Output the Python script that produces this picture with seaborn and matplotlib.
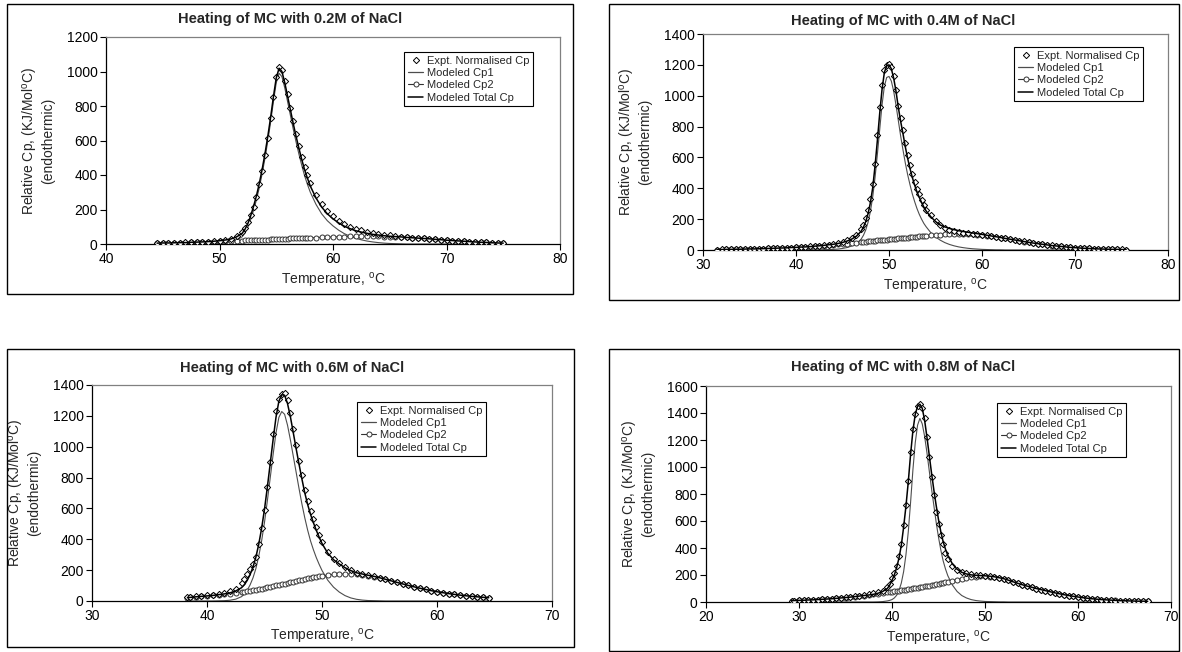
"""
DSC heating curves of MC with NaCl, four panels (Excel style)
"""
import matplotlib
matplotlib.use('Agg')
import matplotlib.pyplot as plt
from matplotlib.lines import Line2D
from matplotlib.patches import Rectangle
import seaborn as sns

# ---------------- data ----------------
# 0.2M NaCl
T_02 = [44.5, 45, 45.5, 46, 46.5, 47, 47.5, 48, 48.5, 49, 49.5, 50, 50.5, 51, 51.5, 52,
        52.25, 52.5, 52.75, 53, 53.25, 53.5, 53.75, 54, 54.25, 54.5, 54.75, 55, 55.25, 55.5,
        55.75, 56, 56.25, 56.5, 56.75, 57, 57.25, 57.5, 57.75, 58,
        58.5, 59, 59.5, 60, 60.5, 61, 61.5, 62, 62.5, 63, 63.5, 64, 64.5, 65, 65.5, 66, 66.5,
        67, 67.5, 68, 68.5, 69, 69.5, 70, 70.5, 71, 71.5, 72, 72.5, 73, 73.5, 74, 74.5, 75]
EXPT_02 = [5, 6, 7, 7, 8, 9, 10, 11, 13, 14, 16, 19, 24, 31, 45, 68,
           92, 125, 168, 215, 275, 345, 425, 515, 615, 730, 855, 968, 1025, 1008,
           945, 868, 790, 712, 638, 570, 505, 448, 398, 355,
           285, 232, 192, 160, 135, 115, 100, 88, 79, 71, 65, 59, 54, 50, 46, 43, 40,
           37, 35, 32, 30, 27, 25, 23, 20, 18, 16, 14, 12, 10, 9, 7, 6, 5]
CP1_02 = [0, 0, 0, 0, 0, 0, 1, 1, 1, 2, 3, 4, 7, 12, 22, 42,
          65, 98, 142, 195, 255, 325, 405, 495, 595, 705, 825, 935, 990, 970,
          905, 825, 745, 665, 590, 520, 455, 395, 345, 300,
          230, 175, 135, 105, 80, 60, 45, 33, 24, 17, 12, 8, 5, 3, 2, 1, 0,
          0, 0, 0, 0, 0, 0, 0, 0, 0, 0, 0, 0, 0, 0, 0, 0, 0]
CP2_02 = [5, 6, 6, 7, 8, 8, 9, 10, 11, 12, 13, 15, 16, 17, 19, 20,
          21, 21, 22, 23, 23, 24, 25, 26, 26, 27, 28, 28, 29, 30,
          30, 31, 32, 32, 33, 34, 34, 35, 36, 36,
          37, 39, 40, 41, 42, 43, 44, 44, 45, 45, 44, 44, 43, 42, 41, 40, 38,
          36, 34, 32, 30, 27, 25, 22, 20, 18, 16, 14, 12, 10, 9, 7, 6, 5]
TOTAL_02 = [5, 6, 6, 7, 8, 8, 10, 11, 12, 14, 16, 19, 23, 29, 41, 62,
            86, 119, 164, 218, 278, 349, 430, 521, 621, 732, 853, 963, 1019, 1000,
            935, 856, 777, 697, 623, 554, 489, 430, 381, 336,
            267, 214, 175, 146, 122, 103, 89, 77, 69, 62, 56, 52, 48, 45, 43, 41, 38,
            36, 34, 32, 30, 27, 25, 22, 20, 18, 16, 14, 12, 10, 9, 7, 6, 5]

# 0.4M NaCl
T_04 = [31.5, 32, 32.5, 33, 33.5, 34, 34.5, 35, 35.5, 36, 36.5, 37, 37.5, 38, 38.5, 39,
        39.5, 40, 40.5, 41, 41.5, 42, 42.5, 43, 43.5, 44, 44.5, 45, 45.5, 46, 46.5, 47,
        47.25, 47.5, 47.75, 48, 48.25, 48.5, 48.75, 49, 49.25, 49.5, 49.75, 50, 50.25, 50.5,
        50.75, 51, 51.25, 51.5, 51.75, 52, 52.25, 52.5, 52.75, 53, 53.25, 53.5, 53.75, 54,
        54.5, 55, 55.5, 56, 56.5, 57, 57.5, 58, 58.5, 59, 59.5, 60, 60.5, 61, 61.5, 62, 62.5,
        63, 63.5, 64, 64.5, 65, 65.5, 66, 66.5, 67, 67.5, 68, 68.5, 69, 69.5, 70, 70.5, 71,
        71.5, 72, 72.5, 73, 73.5, 74, 74.5, 75, 75.5]
EXPT_04 = [3, 4, 4, 5, 5, 6, 6, 7, 8, 8, 9, 10, 11, 12, 13, 15,
           16, 18, 19, 21, 23, 26, 28, 31, 35, 39, 44, 52, 62, 78, 100, 135,
           165, 205, 260, 330, 430, 560, 745, 930, 1070, 1165, 1198, 1205, 1185, 1130,
           1040, 935, 855, 780, 692, 615, 552, 495, 442, 395, 360, 325, 292, 262,
           225, 188, 160, 142, 130, 122, 117, 113, 110, 106, 102, 98, 94, 90, 86, 81, 76,
           71, 66, 61, 56, 51, 46, 42, 38, 34, 30, 27, 24, 21, 18, 16, 14, 12,
           10, 9, 8, 7, 6, 5, 4, 4, 3]
CP1_04 = [0, 0, 0, 0, 0, 0, 0, 0, 0, 0, 0, 0, 0, 0, 0, 0,
          0, 0, 0, 0, 0, 1, 1, 2, 3, 4, 6, 10, 16, 26, 42, 70,
          95, 130, 180, 250, 345, 470, 620, 780, 940, 1060, 1118, 1125, 1095, 1030,
          940, 840, 740, 650, 565, 490, 425, 365, 315, 270, 232, 200, 172, 150,
          112, 85, 64, 48, 36, 27, 20, 15, 11, 8, 6, 4, 3, 2, 1, 1, 0,
          0, 0, 0, 0, 0, 0, 0, 0, 0, 0, 0, 0, 0, 0, 0, 0, 0,
          0, 0, 0, 0, 0, 0, 0, 0, 0]
CP2_04 = [3, 3, 4, 4, 5, 5, 6, 7, 7, 8, 9, 10, 11, 12, 13, 14,
          16, 17, 19, 20, 22, 24, 26, 28, 31, 33, 36, 39, 42, 45, 48, 51,
          53, 54, 56, 57, 59, 60, 62, 63, 65, 66, 68, 69, 71, 72,
          74, 75, 77, 78, 80, 81, 83, 84, 86, 87, 88, 90, 91, 93,
          95, 98, 100, 102, 104, 105, 105, 105, 104, 102, 100, 97, 93, 89, 85, 80, 75,
          70, 65, 60, 55, 50, 45, 41, 37, 33, 29, 26, 23, 20, 17, 15, 13, 11,
          10, 8, 7, 6, 5, 4, 4, 3, 3]
TOTAL_04 = [3, 3, 4, 4, 5, 5, 6, 7, 7, 8, 9, 10, 11, 12, 13, 14,
            16, 17, 19, 20, 22, 25, 27, 30, 34, 37, 42, 49, 58, 71, 90, 121,
            148, 184, 236, 307, 404, 545, 710, 885, 1040, 1150, 1195, 1200, 1175, 1115,
            1030, 925, 835, 755, 670, 595, 530, 472, 422, 378, 342, 308, 278, 252,
            215, 185, 162, 150, 140, 132, 125, 120, 115, 110, 106, 101, 96, 91, 86, 81, 75,
            70, 65, 60, 55, 50, 45, 41, 37, 33, 29, 26, 23, 20, 17, 15, 13, 11,
            10, 8, 7, 6, 5, 4, 4, 3, 3]

# 0.6M NaCl
T_06 = [38.3, 38.5, 39, 39.5, 40, 40.5, 41, 41.5, 42, 42.5, 43,
        43.25, 43.5, 43.75, 44, 44.25, 44.5, 44.75, 45, 45.25, 45.5, 45.75, 46, 46.25, 46.5,
        46.75, 47, 47.25, 47.5, 47.75, 48, 48.25, 48.5, 48.75, 49, 49.25, 49.5, 49.75, 50,
        50.5, 51, 51.5, 52, 52.5, 53, 53.5, 54, 54.5, 55, 55.5, 56, 56.5, 57, 57.5, 58, 58.5,
        59, 59.5, 60, 60.5, 61, 61.5, 62, 62.5, 63, 63.5, 64, 64.5]
EXPT_06 = [28, 29, 31, 34, 37, 41, 46, 52, 62, 80, 115,
           145, 175, 205, 240, 285, 370, 470, 590, 740, 900, 1080, 1230, 1310, 1340,
           1345, 1300, 1220, 1115, 1010, 910, 815, 720, 645, 585, 530, 478, 430, 385,
           315, 275, 248, 222, 200, 183, 175, 167, 160, 151, 141, 131, 121, 111, 101, 92, 83,
           75, 67, 60, 54, 48, 43, 38, 34, 30, 27, 24, 21]
CP1_06 = [0, 0, 0, 0, 0, 0, 1, 2, 5, 12, 28,
          45, 70, 105, 150, 210, 290, 390, 510, 650, 800, 950, 1090, 1190, 1228,
          1210, 1140, 1045, 940, 835, 730, 630, 540, 460, 390, 333, 282, 238, 198,
          135, 90, 58, 35, 20, 11, 6, 3, 2, 1, 0, 0, 0, 0, 0, 0, 0,
          0, 0, 0, 0, 0, 0, 0, 0, 0, 0, 0, 0]
CP2_06 = [22, 23, 27, 30, 33, 36, 40, 44, 48, 53, 58,
          61, 64, 67, 70, 74, 78, 81, 85, 89, 93, 97, 101, 105, 109,
          113, 117, 121, 126, 130, 134, 138, 142, 146, 150, 153, 157, 160, 163,
          168, 172, 174, 175, 174, 172, 169, 164, 158, 150, 141, 131, 121, 111, 101, 92, 83,
          75, 67, 60, 54, 48, 43, 38, 34, 30, 27, 24, 21]
TOTAL_06 = [22, 23, 27, 30, 33, 36, 41, 46, 53, 65, 86,
            106, 134, 172, 220, 284, 368, 471, 595, 739, 893, 1047, 1191, 1295, 1337,
            1333, 1280, 1195, 1092, 988, 888, 792, 702, 626, 562, 508, 459, 414, 373,
            310, 268, 240, 216, 197, 183, 175, 167, 160, 151, 141, 131, 121, 111, 101, 92, 83,
            75, 67, 60, 54, 48, 43, 38, 34, 30, 27, 24, 21]

# 0.8M NaCl
T_08 = [29.2, 29.5, 30, 30.5, 31, 31.5, 32, 32.5, 33, 33.5, 34, 34.5, 35, 35.5, 36, 36.5,
        37, 37.5, 38, 38.5, 39, 39.5,
        39.75, 40, 40.25, 40.5, 40.75, 41, 41.25, 41.5, 41.75, 42, 42.25, 42.5, 42.75, 43,
        43.25, 43.5, 43.75, 44, 44.25, 44.5, 44.75, 45, 45.25, 45.5, 45.75, 46,
        46.5, 47, 47.5, 48, 48.5, 49, 49.5, 50, 50.5, 51, 51.5, 52, 52.5, 53, 53.5, 54, 54.5,
        55, 55.5, 56, 56.5, 57, 57.5, 58, 58.5, 59, 59.5, 60, 60.5, 61, 61.5, 62, 62.5, 63,
        63.5, 64, 64.5, 65, 65.5, 66, 66.5, 67, 67.5]
EXPT_08 = [10, 11, 12, 13, 15, 16, 18, 20, 22, 25, 28, 31, 34, 38, 42, 46,
           51, 56, 63, 72, 85, 108,
           135, 175, 215, 270, 340, 430, 570, 720, 900, 1110, 1280, 1395, 1455, 1467,
           1440, 1365, 1225, 1075, 925, 790, 670, 580, 500, 430, 365, 315,
           270, 240, 222, 212, 205, 200, 197, 194, 190, 185, 178, 170, 160, 149, 138, 127, 117,
           108, 99, 91, 83, 75, 67, 60, 53, 47, 41, 36, 31, 27, 23, 20, 17, 15,
           13, 11, 10, 9, 8, 7, 6, 6, 5]
CP1_08 = [0, 0, 0, 0, 0, 0, 0, 0, 0, 0, 0, 0, 0, 0, 0, 0,
          0, 0, 0, 1, 3, 8,
          12, 18, 30, 50, 85, 140, 225, 350, 520, 740, 980, 1180, 1310, 1360,
          1320, 1230, 1110, 975, 840, 715, 590, 480, 385, 305, 245, 195,
          125, 78, 48, 30, 18, 11, 7, 4, 3, 2, 1, 1, 0, 0, 0, 0, 0,
          0, 0, 0, 0, 0, 0, 0, 0, 0, 0, 0, 0, 0, 0, 0, 0, 0,
          0, 0, 0, 0, 0, 0, 0, 0, 0]
CP2_08 = [10, 11, 12, 13, 15, 16, 18, 20, 22, 24, 27, 30, 33, 36, 40, 44,
          48, 52, 57, 61, 66, 71,
          73, 76, 79, 81, 84, 87, 90, 92, 95, 98, 101, 104, 107, 110,
          113, 116, 119, 122, 125, 128, 132, 135, 139, 142, 146, 150,
          157, 165, 172, 178, 183, 187, 189, 190, 188, 185, 179, 172, 162, 150, 139, 128, 118,
          110, 100, 92, 84, 76, 68, 61, 54, 48, 42, 37, 32, 28, 24, 21, 18, 16,
          14, 12, 10, 9, 8, 7, 6, 6, 5]
TOTAL_08 = [10, 11, 12, 13, 15, 16, 18, 20, 22, 24, 27, 30, 33, 36, 40, 44,
            48, 52, 57, 65, 78, 100,
            125, 160, 200, 255, 325, 420, 555, 710, 890, 1095, 1270, 1390, 1450, 1465,
            1435, 1350, 1225, 1090, 955, 830, 715, 610, 520, 447, 391, 345,
            282, 243, 220, 208, 201, 198, 196, 194, 191, 187, 180, 173, 162, 150, 139, 128, 118,
            110, 100, 92, 84, 76, 68, 61, 54, 48, 42, 37, 32, 28, 24, 21, 18, 16,
            14, 12, 10, 9, 8, 7, 6, 6, 5]

CONCS = ['0.2M', '0.4M', '0.6M', '0.8M']
XTICKS = [[40, 50, 60, 70, 80], [30, 40, 50, 60, 70, 80], [30, 40, 50, 60, 70], [20, 30, 40, 50, 60, 70]]
YTICKS = [[0, 200, 400, 600, 800, 1000, 1200],
          [0, 200, 400, 600, 800, 1000, 1200, 1400],
          [0, 200, 400, 600, 800, 1000, 1200, 1400],
          [0, 200, 400, 600, 800, 1000, 1200, 1400, 1600]]
SERIES_LABELS = ['Expt. Normalised Cp', 'Modeled Cp1', 'Modeled Cp2', 'Modeled Total Cp']

# ---------------- layout (pixels in 1182x652) ----------------
W, H = 1182, 652
LAYOUT = [
    dict(plot=(106, 37, 560, 244), box=(7, 4, 573, 294), title=(290, 19), legend=(533, 52)),
    dict(plot=(703, 34, 1168, 250), box=(609, 4, 1179, 300), title=(903, 21), legend=(1143, 47)),
    dict(plot=(92, 385, 552, 601), box=(7, 349, 574, 647), title=(292, 368), legend=(486, 402)),
    dict(plot=(706, 386, 1171, 602), box=(609, 349, 1179, 651), title=(903, 367), legend=(1126, 403)),
]

sns.set_style('ticks')
plt.rcParams['font.family'] = ['Liberation Sans', 'DejaVu Sans']
plt.rcParams['mathtext.fontset'] = 'custom'
plt.rcParams['mathtext.rm'] = 'Liberation Sans'
plt.rcParams['mathtext.it'] = 'Liberation Sans:italic'
plt.rcParams['mathtext.bf'] = 'Liberation Sans:bold'


def fx(x):
    return x / W


def fy(y):
    return 1 - y / H


def draw_panel(fig, lay, conc, T, expt, cp1, cp2, total, xticks, yticks):
    x0, y0, x1, y1 = lay['plot']
    ax = fig.add_axes([fx(x0), fy(y1), (x1 - x0) / W, (y1 - y0) / H])

    sns.scatterplot(x=T, y=expt, ax=ax, marker='D', s=10, color='white',
                    edgecolor='black', linewidth=0.7, zorder=3)
    sns.lineplot(x=T, y=cp1, ax=ax, color='#4d4d4d', lw=0.8, estimator=None, zorder=2)
    sns.lineplot(x=T, y=cp2, ax=ax, color='#333333', lw=0.8, estimator=None,
                 marker='o', markersize=3.6, markerfacecolor='white',
                 markeredgecolor='#333333', markeredgewidth=0.7, zorder=2)
    sns.lineplot(x=T, y=total, ax=ax, color='black', lw=1.1, estimator=None, zorder=4)

    ax.set_xlim(xticks[0], xticks[-1])
    ax.set_ylim(yticks[0], yticks[-1])
    ax.set_xticks(xticks)
    ax.set_yticks(yticks)
    ax.tick_params(axis='both', direction='out', length=4, width=0.8, labelsize=10,
                   pad=2, colors='black', bottom=True, left=True, top=False, right=False)
    for side in ['left', 'bottom']:
        ax.spines[side].set_color('black')
        ax.spines[side].set_linewidth(0.9)
    for side in ['top', 'right']:
        ax.spines[side].set_color('#808080')
        ax.spines[side].set_linewidth(0.9)

    ax.set_xlabel('Temperature, $^{\\mathrm{o}}$C', fontsize=10, labelpad=3)
    ax.set_ylabel('Relative Cp, (KJ/Mol$^{\\mathrm{o}}$C)\n(endothermic)', fontsize=10,
                  labelpad=8, linespacing=1.1)

    handles = [
        Line2D([], [], ls='none', marker='D', ms=3.2, mfc='white', mec='black', mew=0.7),
        Line2D([], [], color='#4d4d4d', lw=0.9),
        Line2D([], [], color='#333333', lw=0.8, marker='o', ms=3.6, mfc='white',
               mec='#333333', mew=0.7),
        Line2D([], [], color='black', lw=1.1),
    ]
    lx, ly = lay['legend']
    leg = ax.legend(handles, SERIES_LABELS, loc='upper right',
                    bbox_to_anchor=(fx(lx), fy(ly)), bbox_transform=fig.transFigure,
                    fontsize=8, frameon=True, fancybox=False, edgecolor='black',
                    framealpha=1, borderpad=0.35, labelspacing=0.2, handlelength=1.4,
                    handletextpad=0.3, borderaxespad=0)
    leg.get_frame().set_linewidth(0.8)

    cx, cy = lay['title']
    fig.text(fx(cx), fy(cy), f'Heating of MC with {conc} of NaCl', ha='center',
             va='center', fontsize=10.5, fontweight='bold')

    bx0, by0, bx1, by1 = lay['box']
    fig.add_artist(Rectangle((fx(bx0), fy(by1)), (bx1 - bx0) / W, (by1 - by0) / H,
                             transform=fig.transFigure, fill=False, ec='black', lw=1.0))
    return ax


fig = plt.figure(figsize=(W / 100, H / 100), dpi=100)
fig.patch.set_facecolor('white')

data = [
    (T_02, EXPT_02, CP1_02, CP2_02, TOTAL_02),
    (T_04, EXPT_04, CP1_04, CP2_04, TOTAL_04),
    (T_06, EXPT_06, CP1_06, CP2_06, TOTAL_06),
    (T_08, EXPT_08, CP1_08, CP2_08, TOTAL_08),
]
for i in range(4):
    T, expt, cp1, cp2, total = data[i]
    draw_panel(fig, LAYOUT[i], CONCS[i], T, expt, cp1, cp2, total, XTICKS[i], YTICKS[i])

fig.savefig('out.png', dpi=100)
